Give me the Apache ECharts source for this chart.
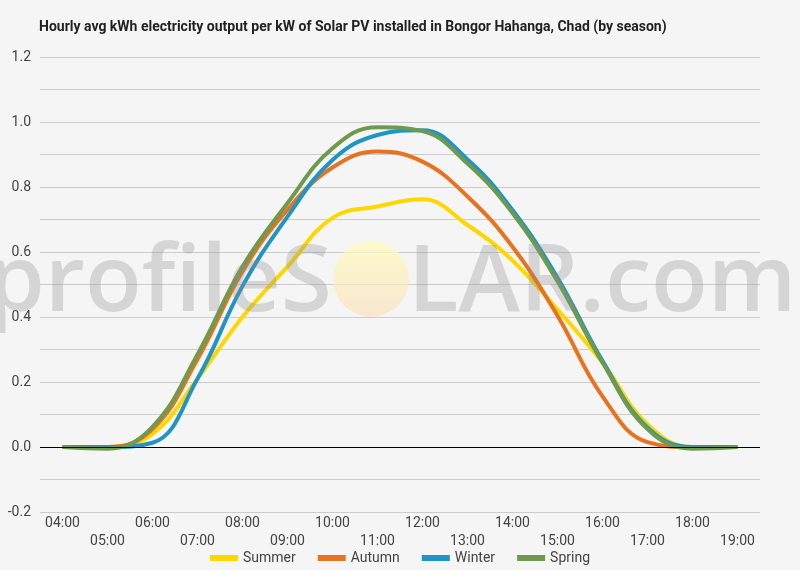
<!DOCTYPE html>
<html>
<head>
<meta charset="utf-8">
<script src="https://cdn.jsdelivr.net/npm/echarts@6/dist/echarts.min.js"></script>
<style>
  html, body { margin: 0; padding: 0; background: #f5f5f5; }
  #chart { width: 800px; height: 570px; }
</style>
</head>
<body>
<div id="chart"></div>
<script>
// hours of the day
const hours = ['04:00', '05:00', '06:00', '07:00', '08:00', '09:00', '10:00', '11:00',
  '12:00', '13:00', '14:00', '15:00', '16:00', '17:00', '18:00', '19:00'];

// kWh per kW
const summer = [0, 0, 0.04, 0.21, 0.40, 0.555, 0.705, 0.74, 0.762, 0.683, 0.574, 0.423, 0.26, 0.07, 0, 0];
const autumn = [0, 0, 0.055, 0.27, 0.54, 0.73, 0.86, 0.909, 0.878, 0.771, 0.616, 0.404, 0.156, 0.015, 0, 0];
const winter = [0, 0, 0.013, 0.21, 0.495, 0.709, 0.883, 0.96, 0.975, 0.885, 0.729, 0.521, 0.265, 0.06, 0, 0];
const spring = [0, -0.005, 0.062, 0.285, 0.555, 0.75, 0.919, 0.984, 0.972, 0.872, 0.72, 0.51, 0.26, 0.055, -0.005, 0];

const seasonNames = ['Summer', 'Autumn', 'Winter', 'Spring'];
const seasonColors = ['#ffd700', '#e8731f', '#1f95c6', '#6e9a4d'];
const seasonData = [summer, autumn, winter, spring];

const chart = echarts.init(document.getElementById('chart'));

const series = seasonNames.map((name, i) => ({
  name: name,
  type: 'line',
  data: seasonData[i],
  smooth: 0.42,
  symbol: 'none',
  lineStyle: { color: seasonColors[i], width: 4 },
  itemStyle: { color: seasonColors[i] }
}));

// black zero line under the curves
series[0].markLine = {
  silent: true,
  symbol: ['none', 'none'],
  label: { show: false },
  lineStyle: { color: '#000', width: 1, type: 'solid' },
  data: [{ yAxis: 0 }]
};

const watermarkFont = '600 93px "Open Sans"';
const watermarkFill = 'rgba(140,140,140,0.3)';

const option = {
  backgroundColor: '#f5f5f5',
  animation: false,
  title: {
    text: 'Hourly avg kWh electricity output per kW of Solar PV installed in Bongor Hahanga, Chad (by season)',
    left: 34,
    top: 15,
    textStyle: { fontFamily: 'Roboto', fontWeight: 'bold', fontSize: 14, color: '#222' }
  },
  legend: {
    bottom: 0,
    left: 'center',
    icon: 'rect',
    itemWidth: 28,
    itemHeight: 6,
    itemGap: 22,
    textStyle: { fontFamily: 'Roboto', fontSize: 14, color: '#444' },
    data: seasonNames
  },
  grid: { left: 40, right: 40, top: 57, bottom: 58 },
  xAxis: {
    type: 'category',
    data: hours,
    boundaryGap: true,
    axisLine: { show: false },
    axisTick: { show: false },
    axisLabel: {
      interval: 0,
      margin: 2,
      fontFamily: 'Roboto',
      fontSize: 14,
      color: '#444',
      lineHeight: 18,
      formatter: (v, i) => (i % 2 ? '\n' + v : v)
    }
  },
  yAxis: {
    type: 'value',
    min: -0.2,
    max: 1.2,
    interval: 0.1,
    axisLine: { show: false },
    axisTick: { show: false },
    splitLine: { lineStyle: { color: '#cccccc', width: 1 } },
    axisLabel: {
      margin: 9,
      fontFamily: 'Roboto',
      fontSize: 14,
      color: '#444',
      formatter: v => (Math.round(Math.abs(v) * 10) % 2 === 0 ? v.toFixed(1) : '')
    }
  },
  graphic: [
    {
      type: 'text',
      z: 100,
      silent: true,
      x: 332,
      y: 284,
      style: {
        text: 'profileS',
        font: watermarkFont,
        fill: watermarkFill,
        align: 'right',
        verticalAlign: 'middle'
      }
    },
    {
      type: 'circle',
      z: 99,
      silent: true,
      shape: { cx: 371, cy: 279, r: 38 },
      style: {
        fill: new echarts.graphic.LinearGradient(0, 0, 0, 1, [
          { offset: 0, color: 'rgba(255,252,190,0.75)' },
          { offset: 1, color: 'rgba(250,225,190,0.7)' }
        ])
      }
    },
    {
      type: 'text',
      z: 100,
      silent: true,
      x: 408,
      y: 284,
      style: {
        text: 'LAR.com',
        font: watermarkFont,
        fill: watermarkFill,
        align: 'left',
        verticalAlign: 'middle'
      }
    }
  ],
  series: series
};

chart.setOption(option);
</script>
</body>
</html>
